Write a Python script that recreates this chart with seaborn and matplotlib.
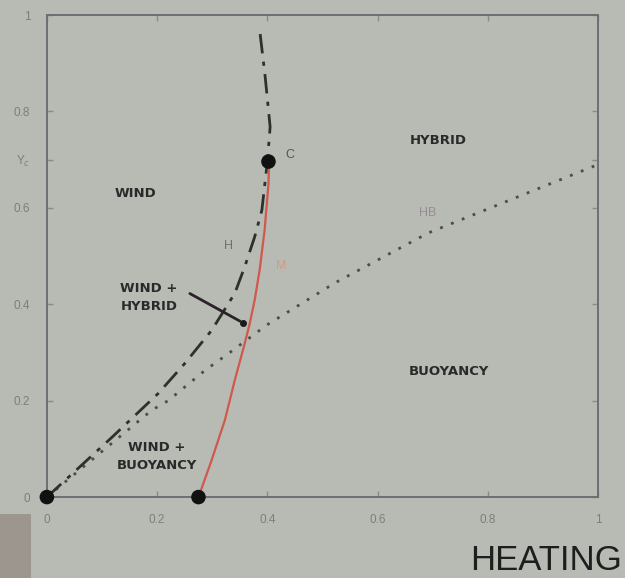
import matplotlib
matplotlib.use("Agg")
import matplotlib.pyplot as plt
import seaborn as sns
import pandas as pd
from matplotlib.patches import Rectangle

# ---- data ----
h_x = [0.0, 0.118, 0.202, 0.25, 0.299, 0.341, 0.359, 0.377, 0.39, 0.40, 0.405, 0.396, 0.386]
h_y = [0.0, 0.124, 0.215, 0.277, 0.346, 0.423, 0.478, 0.54, 0.595, 0.696, 0.768, 0.872, 0.969]

m_x = [0.275, 0.299, 0.323, 0.341, 0.359, 0.368, 0.377, 0.386, 0.395, 0.402, 0.403]
m_y = [0.0, 0.077, 0.16, 0.243, 0.319, 0.36, 0.409, 0.471, 0.554, 0.65, 0.694]

hb_x = [0.0, 0.19, 0.22, 0.287, 0.332, 0.399, 0.522, 0.692, 1.0]
hb_y = [0.0, 0.18, 0.20, 0.263, 0.30, 0.357, 0.444, 0.548, 0.69]

pts_x = [0.0, 0.275, 0.402]
pts_y = [0.0, 0.0, 0.696]

x_ticks = [0, 0.2, 0.4, 0.6, 0.8, 1]
x_tick_labels = ["0", "0.2", "0.4", "0.6", "0.8", "1"]
y_ticks = [0, 0.2, 0.4, 0.6, 0.7, 0.8, 1]
y_tick_labels = ["0", "0.2", "0.4", "0.6", "Y$_c$", "0.8", "1"]

region_labels = ["WIND", "HYBRID", "BUOYANCY", "WIND +\nHYBRID", "WIND +\nBUOYANCY"]
region_x = [0.16, 0.71, 0.73, 0.185, 0.20]
region_y = [0.63, 0.74, 0.26, 0.415, 0.085]

curve_labels = ["H", "M", "HB", "C"]
curve_lx = [0.33, 0.425, 0.69, 0.44]
curve_ly = [0.52, 0.48, 0.59, 0.71]

arrow_from = (0.255, 0.425)
arrow_to = (0.355, 0.362)

# ---- styling ----
sns.set_theme(style="ticks")
plt.rcParams["font.family"] = ["Liberation Sans", "DejaVu Sans"]
bg = "#b7bbb3"

fig = plt.figure(figsize=(6.25, 5.78), dpi=100)
fig.patch.set_facecolor(bg)
ax = fig.add_axes([0.075, 0.14, 0.882, 0.834])
ax.set_facecolor(bg)

df_h = pd.DataFrame({"x": h_x, "y": h_y})
df_m = pd.DataFrame({"x": m_x, "y": m_y})
df_hb = pd.DataFrame({"x": hb_x, "y": hb_y})
df_p = pd.DataFrame({"x": pts_x, "y": pts_y})

sns.lineplot(data=df_hb, x="x", y="y", sort=False, ax=ax, color="#4a4d4a",
             linewidth=2.0, linestyle=(0, (1, 3.2)))
sns.lineplot(data=df_h, x="x", y="y", sort=False, ax=ax, color="#2e302e",
             linewidth=2.0, linestyle=(0, (7, 3, 1.5, 3)))
sns.lineplot(data=df_m, x="x", y="y", sort=False, ax=ax, color="#d0584c",
             linewidth=1.6)
sns.scatterplot(data=df_p, x="x", y="y", ax=ax, color="#111111", s=110,
                edgecolor="none", zorder=5, clip_on=False)

ax.annotate("", xy=arrow_to, xytext=arrow_from,
            arrowprops=dict(arrowstyle="-", color="#2a2228", lw=2.0))
ax.plot([arrow_to[0]], [arrow_to[1]], marker="o", ms=4, color="#1a1a1a")

for t, x, y in zip(region_labels, region_x, region_y):
    ax.text(x, y, t, ha="center", va="center", fontsize=9.5, fontweight="bold",
            color="#2a2a2a", linespacing=1.5, family=["DejaVu Sans"])

curve_colors = ["#707070", "#d69a80", "#9a8a96", "#555555"]
for t, x, y, c in zip(curve_labels, curve_lx, curve_ly, curve_colors):
    ax.text(x, y, t, ha="center", va="center", fontsize=9, color=c)

ax.set_xlim(0, 1)
ax.set_ylim(0, 1)
ax.set_xticks(x_ticks)
ax.set_xticklabels(x_tick_labels)
ax.set_yticks(y_ticks)
ax.set_yticklabels(y_tick_labels)
ax.set_xlabel("")
ax.set_ylabel("")
ax.tick_params(direction="in", length=4, width=1, colors="#8a8a88",
               labelcolor="#7e7e7c", labelsize=8.5, top=True, right=True,
               pad=12)
for s in ax.spines.values():
    s.set_color("#6c6e72")
    s.set_linewidth(1.4)

fig.text(0.873, 0.03, "HEATING", ha="center", va="center", fontsize=25,
         color="#1e1e1e")
fig.patches.append(Rectangle((0, 0), 0.05, 0.11, transform=fig.transFigure,
                             facecolor="#9c968e", edgecolor="none", zorder=0))

fig.savefig("out.png", dpi=100, facecolor=bg)
